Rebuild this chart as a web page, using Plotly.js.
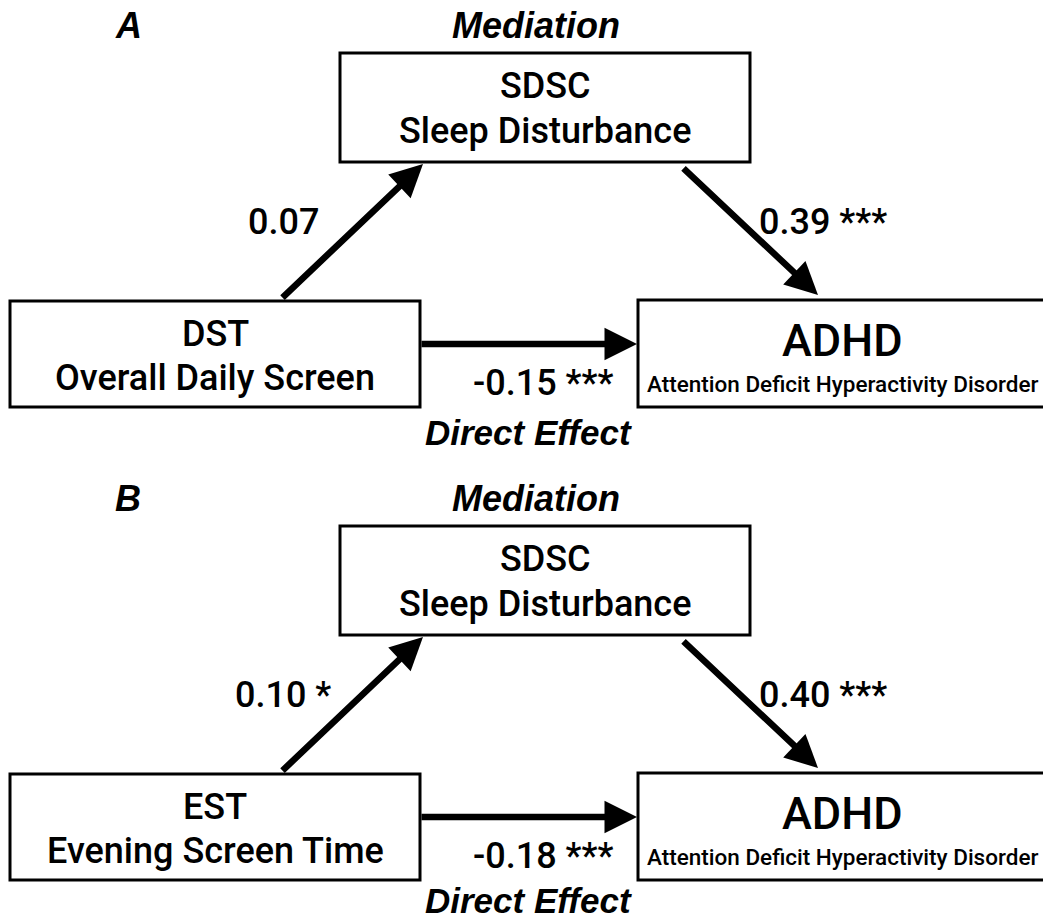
<!DOCTYPE html>
<html>
<head>
<meta charset="utf-8">
<script src="https://cdn.plot.ly/plotly-3.0.1.min.js"></script>
<style>
html,body{margin:0;padding:0;background:#fff;}
#chart{width:1043px;height:919px;}
</style>
</head>
<body>
<div id="chart"></div>
<script>
// ---------- DATA ----------
const panelLetters = ['A', 'B'];
const predictorCodes = ['DST', 'EST'];
const predictorNames = ['Overall Daily Screen', 'Evening Screen Time'];
const mediatorCodes = ['SDSC', 'SDSC'];
const mediatorNames = ['Sleep Disturbance', 'Sleep Disturbance'];
const outcomeCodes = ['ADHD', 'ADHD'];
const outcomeNames = ['Attention Deficit Hyperactivity Disorder', 'Attention Deficit Hyperactivity Disorder'];
const pathA = [0.07, 0.10];          // predictor -> mediator
const pathASig = ['', '*'];
const pathB = [0.39, 0.40];          // mediator -> outcome
const pathBSig = ['***', '***'];
const directC = [-0.15, -0.18];      // predictor -> outcome
const directSig = ['***', '***'];
const mediationLabel = 'Mediation';
const directLabel = 'Direct Effect';

// ---------- LAYOUT (pixel-space geometry, panel template) ----------
const W = 1043, H = 919;
const panelOffset = [0, 473];
const FONT = 'Roboto, Liberation Sans, Arial, sans-serif';
const HEAD = 'Liberation Sans, Arial, Helvetica, sans-serif';
const BOXTXT = 36, LBL = 36;
const geo = {
  letter: {x: 128, y: 25},
  mediation: {x: 536, y: 25},
  medBox: {x0: 340, x1: 750, y0: 53, y1: 162, l1: 86, l2: 131},
  predBox: {x0: 10, x1: 420, y0: 301, y1: 407, l1: 334, l2: 378},
  outBox: {x0: 638, x1: 1046, y0: 300, y1: 407, l1: 340, l2: 384},
  arrA: {x0: 281, y0: 299, x1: 423, y1: 164, lx: 283, ly: 222},
  arrB: {x0: 682, y0: 167, x1: 818, y1: 295, lx: 823, ly: 222},
  arrC: {x0: 420, y0: 344, x1: 637, y1: 344, lx: 543, ly: 383},
  direct: {x: 528, y: [432, 900]}
};

const shapes = [];
const annotations = [];
const fmt = (v, s) => v.toFixed(2) + (s ? ' ' + s : '');

function txt(x, y, text, size, family, weight) {
  annotations.push({
    x: x, y: y, xref: 'x', yref: 'y', text: text, showarrow: false,
    xanchor: 'center', yanchor: 'middle',
    font: {family: family, size: size, color: '#000', weight: weight || 'normal'}
  });
}
function box(b, dy) {
  shapes.push({type: 'rect', xref: 'x', yref: 'y', x0: b.x0, x1: b.x1, y0: b.y0 + dy, y1: b.y1 + dy,
    line: {color: '#000', width: 3}, fillcolor: 'rgba(0,0,0,0)'});
}
function arrow(a, dy) {
  annotations.push({x: a.x1, y: a.y1 + dy, ax: a.x0, ay: a.y0 + dy, xref: 'x', yref: 'y', axref: 'x', ayref: 'y',
    text: '', showarrow: true, arrowhead: 2, arrowsize: 1, arrowwidth: 6.5, arrowcolor: '#000', standoff: 0, startstandoff: 0});
}

panelLetters.forEach((letter, i) => {
  const dy = panelOffset[i];
  txt(geo.letter.x, geo.letter.y + dy, '<b><i>' + letter + '</i></b>', 36, HEAD);
  txt(geo.mediation.x, geo.mediation.y + dy, '<b><i>' + mediationLabel + '</i></b>', 36, HEAD);
  box(geo.medBox, dy); box(geo.predBox, dy); box(geo.outBox, dy);
  const mc = (geo.medBox.x0 + geo.medBox.x1) / 2;
  txt(mc, geo.medBox.l1 + dy, mediatorCodes[i], BOXTXT, FONT, 500);
  txt(mc, geo.medBox.l2 + dy, mediatorNames[i], BOXTXT, FONT, 500);
  const pc = (geo.predBox.x0 + geo.predBox.x1) / 2;
  txt(pc, geo.predBox.l1 + dy, predictorCodes[i], BOXTXT, FONT, 500);
  txt(pc, geo.predBox.l2 + dy, predictorNames[i], BOXTXT, FONT, 500);
  const oc = 842;
  txt(oc, geo.outBox.l1 + dy, outcomeCodes[i], 45, FONT, 500);
  txt(oc, geo.outBox.l2 + dy, outcomeNames[i], 22.5, FONT, 500);
  arrow(geo.arrA, dy); arrow(geo.arrB, dy); arrow(geo.arrC, dy);
  txt(geo.arrA.lx, geo.arrA.ly + dy, fmt(pathA[i], pathASig[i]), LBL, FONT, 500);
  txt(geo.arrB.lx, geo.arrB.ly + dy, fmt(pathB[i], pathBSig[i]), LBL, FONT, 500);
  txt(geo.arrC.lx, geo.arrC.ly + dy, fmt(directC[i], directSig[i]), LBL, FONT, 500);
  txt(geo.direct.x, geo.direct.y[i], '<b><i>' + directLabel + '</i></b>', 35, HEAD);
});

const layout = {
  width: W, height: H,
  margin: {l: 0, r: 0, t: 0, b: 0, pad: 0},
  paper_bgcolor: '#fff', plot_bgcolor: '#fff',
  showlegend: false,
  xaxis: {range: [0, W], visible: false, fixedrange: true},
  yaxis: {range: [H, 0], visible: false, fixedrange: true},
  shapes: shapes,
  annotations: annotations
};
Plotly.newPlot('chart', [], layout, {staticPlot: true, displayModeBar: false});
</script>
</body>
</html>
